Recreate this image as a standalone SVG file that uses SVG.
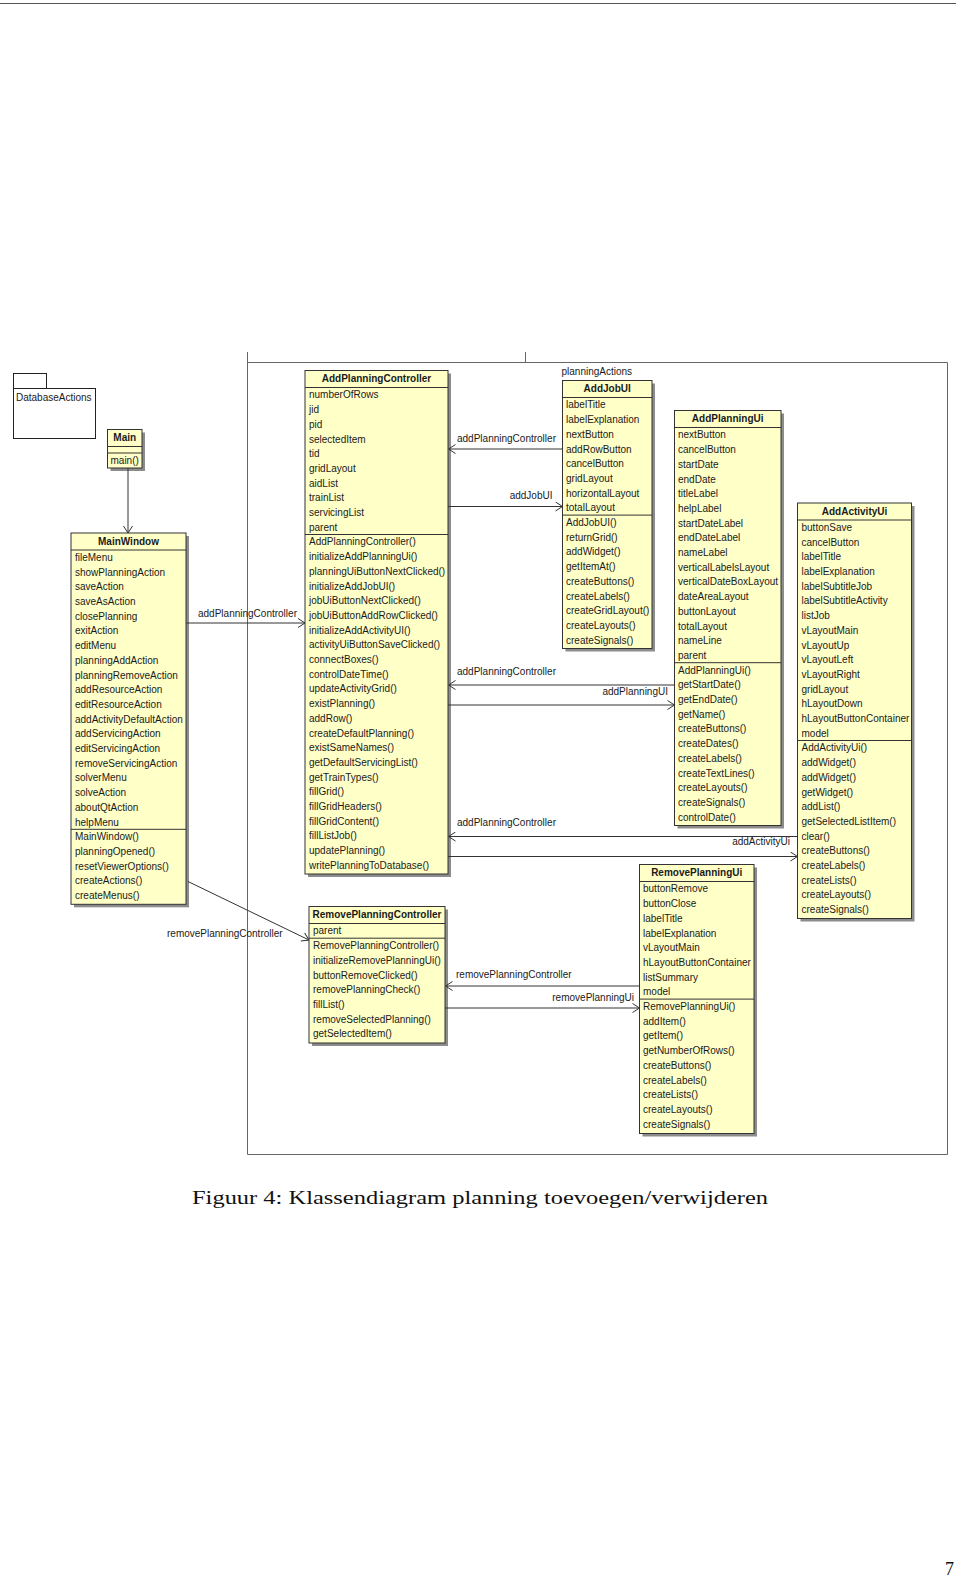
<svg xmlns="http://www.w3.org/2000/svg" width="960" height="1578" viewBox="0 0 960 1578">
<style>
.box{fill:#ffffc8;stroke:#333;stroke-width:1}
.sh{fill:#8c8c8c}
.dv{stroke:#333;stroke-width:1}
.t{font-family:"Liberation Sans",Arial,sans-serif;font-size:10px;fill:#1a1a1a}
.h{font-weight:bold;text-anchor:middle}
.e{text-anchor:end}
.conn{stroke:#333;stroke-width:1;fill:none}
.frame{stroke:#666;stroke-width:1;fill:none}
.cap{font-family:"Liberation Serif","Times New Roman",serif;font-size:18px;fill:#111}
</style>
<defs>
<marker id="arr" viewBox="0 0 10 10" refX="10" refY="5" markerWidth="10" markerHeight="10" markerUnits="userSpaceOnUse" orient="auto">
<path d="M3,0.5 L10,5 L3,9.5" fill="none" stroke="#333" stroke-width="1"/>
</marker>
</defs>
<rect width="960" height="1578" fill="#fff"/>
<line x1="0" y1="3.5" x2="956" y2="3.5" stroke="#555" stroke-width="1"/>

<g id="frame">
<path class="frame" d="M247.5,352 V1154.5 H947.5 V362.5 H247.5"/>
<line class="frame" x1="525.5" y1="352" x2="525.5" y2="362.5"/>
</g>

<g id="DatabaseActions">
<rect x="13.5" y="373.5" width="33" height="15" fill="#fff" stroke="#222"/>
<rect x="13.5" y="388.5" width="82" height="50" fill="#fff" stroke="#222"/>
<text class="t" x="16" y="400.5">DatabaseActions</text>
</g>

<g id="Main">
<rect class="sh" x="110.5" y="432.5" width="34.5" height="38.5"/>
<rect class="box" x="107.5" y="429.5" width="34.5" height="38.5"/>
<line class="dv" x1="107.5" y1="446.5" x2="142" y2="446.5"/>
<line class="dv" x1="107.5" y1="453" x2="142" y2="453"/>
<text class="t h" x="124.7" y="441">Main</text>
<text class="t" x="110.5" y="463.5">main()</text>
</g>

<g id="MainWindow">
<rect class="sh" x="74" y="536" width="115" height="371.3"/>
<rect class="box" x="71" y="533" width="115" height="371.3"/>
<line class="dv" x1="71" y1="550" x2="186" y2="550"/>
<line class="dv" x1="71" y1="829.3" x2="186" y2="829.3"/>
<text class="t h" x="128.5" y="544.8">MainWindow</text>
<text class="t" y="560.9"><tspan x="75">fileMenu</tspan><tspan x="75" dy="14.7">showPlanningAction</tspan><tspan x="75" dy="14.7">saveAction</tspan><tspan x="75" dy="14.7">saveAsAction</tspan><tspan x="75" dy="14.7">closePlanning</tspan><tspan x="75" dy="14.7">exitAction</tspan><tspan x="75" dy="14.7">editMenu</tspan><tspan x="75" dy="14.7">planningAddAction</tspan><tspan x="75" dy="14.7">planningRemoveAction</tspan><tspan x="75" dy="14.7">addResourceAction</tspan><tspan x="75" dy="14.7">editResourceAction</tspan><tspan x="75" dy="14.7">addActivityDefaultAction</tspan><tspan x="75" dy="14.7">addServicingAction</tspan><tspan x="75" dy="14.7">editServicingAction</tspan><tspan x="75" dy="14.7">removeServicingAction</tspan><tspan x="75" dy="14.7">solverMenu</tspan><tspan x="75" dy="14.7">solveAction</tspan><tspan x="75" dy="14.7">aboutQtAction</tspan><tspan x="75" dy="14.7">helpMenu</tspan></text>
<text class="t" y="840.2"><tspan x="75">MainWindow()</tspan><tspan x="75" dy="14.7">planningOpened()</tspan><tspan x="75" dy="14.7">resetViewerOptions()</tspan><tspan x="75" dy="14.7">createActions()</tspan><tspan x="75" dy="14.7">createMenus()</tspan></text>
</g>

<g id="AddPlanningController">
<rect class="sh" x="308" y="373.5" width="143" height="503.5"/>
<rect class="box" x="305" y="370.5" width="143" height="503.5"/>
<line class="dv" x1="305" y1="387.5" x2="448" y2="387.5"/>
<line class="dv" x1="305" y1="534.5" x2="448" y2="534.5"/>
<text class="t h" x="376.5" y="382.3">AddPlanningController</text>
<text class="t" y="398.4"><tspan x="309">numberOfRows</tspan><tspan x="309" dy="14.7">jid</tspan><tspan x="309" dy="14.7">pid</tspan><tspan x="309" dy="14.7">selectedItem</tspan><tspan x="309" dy="14.7">tid</tspan><tspan x="309" dy="14.7">gridLayout</tspan><tspan x="309" dy="14.7">aidList</tspan><tspan x="309" dy="14.7">trainList</tspan><tspan x="309" dy="14.7">servicingList</tspan><tspan x="309" dy="14.7">parent</tspan></text>
<text class="t" y="545.4"><tspan x="309">AddPlanningController()</tspan><tspan x="309" dy="14.7">initializeAddPlanningUi()</tspan><tspan x="309" dy="14.7">planningUiButtonNextClicked()</tspan><tspan x="309" dy="14.7">initializeAddJobUI()</tspan><tspan x="309" dy="14.7">jobUiButtonNextClicked()</tspan><tspan x="309" dy="14.7">jobUiButtonAddRowClicked()</tspan><tspan x="309" dy="14.7">initializeAddActivityUI()</tspan><tspan x="309" dy="14.7">activityUiButtonSaveClicked()</tspan><tspan x="309" dy="14.7">connectBoxes()</tspan><tspan x="309" dy="14.7">controlDateTime()</tspan><tspan x="309" dy="14.7">updateActivityGrid()</tspan><tspan x="309" dy="14.7">existPlanning()</tspan><tspan x="309" dy="14.7">addRow()</tspan><tspan x="309" dy="14.7">createDefaultPlanning()</tspan><tspan x="309" dy="14.7">existSameNames()</tspan><tspan x="309" dy="14.7">getDefaultServicingList()</tspan><tspan x="309" dy="14.7">getTrainTypes()</tspan><tspan x="309" dy="14.7">fillGrid()</tspan><tspan x="309" dy="14.7">fillGridHeaders()</tspan><tspan x="309" dy="14.7">fillGridContent()</tspan><tspan x="309" dy="14.7">fillListJob()</tspan><tspan x="309" dy="14.7">updatePlanning()</tspan><tspan x="309" dy="14.7">writePlanningToDatabase()</tspan></text>
</g>

<g id="AddJobUI">
<text class="t" x="561.5" y="375">planningActions</text>
<rect class="sh" x="565.5" y="383.5" width="89.5" height="268"/>
<rect class="box" x="562.5" y="380.5" width="89.5" height="268"/>
<line class="dv" x1="562.5" y1="397.5" x2="652" y2="397.5"/>
<line class="dv" x1="562.5" y1="515.1" x2="652" y2="515.1"/>
<text class="t h" x="607.2" y="392.3">AddJobUI</text>
<text class="t" y="408.4"><tspan x="566">labelTitle</tspan><tspan x="566" dy="14.7">labelExplanation</tspan><tspan x="566" dy="14.7">nextButton</tspan><tspan x="566" dy="14.7">addRowButton</tspan><tspan x="566" dy="14.7">cancelButton</tspan><tspan x="566" dy="14.7">gridLayout</tspan><tspan x="566" dy="14.7">horizontalLayout</tspan><tspan x="566" dy="14.7">totalLayout</tspan></text>
<text class="t" y="526"><tspan x="566">AddJobUI()</tspan><tspan x="566" dy="14.7">returnGrid()</tspan><tspan x="566" dy="14.7">addWidget()</tspan><tspan x="566" dy="14.7">getItemAt()</tspan><tspan x="566" dy="14.7">createButtons()</tspan><tspan x="566" dy="14.7">createLabels()</tspan><tspan x="566" dy="14.7">createGridLayout()</tspan><tspan x="566" dy="14.7">createLayouts()</tspan><tspan x="566" dy="14.7">createSignals()</tspan></text>
</g>

<g id="AddPlanningUi">
<rect class="sh" x="677.5" y="413.5" width="106.5" height="415"/>
<rect class="box" x="674.5" y="410.5" width="106.5" height="415"/>
<line class="dv" x1="674.5" y1="427.5" x2="781" y2="427.5"/>
<line class="dv" x1="674.5" y1="662.7" x2="781" y2="662.7"/>
<text class="t h" x="727.7" y="422.3">AddPlanningUi</text>
<text class="t" y="438.4"><tspan x="678">nextButton</tspan><tspan x="678" dy="14.7">cancelButton</tspan><tspan x="678" dy="14.7">startDate</tspan><tspan x="678" dy="14.7">endDate</tspan><tspan x="678" dy="14.7">titleLabel</tspan><tspan x="678" dy="14.7">helpLabel</tspan><tspan x="678" dy="14.7">startDateLabel</tspan><tspan x="678" dy="14.7">endDateLabel</tspan><tspan x="678" dy="14.7">nameLabel</tspan><tspan x="678" dy="14.7">verticalLabelsLayout</tspan><tspan x="678" dy="14.7">verticalDateBoxLayout</tspan><tspan x="678" dy="14.7">dateAreaLayout</tspan><tspan x="678" dy="14.7">buttonLayout</tspan><tspan x="678" dy="14.7">totalLayout</tspan><tspan x="678" dy="14.7">nameLine</tspan><tspan x="678" dy="14.7">parent</tspan></text>
<text class="t" y="673.6"><tspan x="678">AddPlanningUi()</tspan><tspan x="678" dy="14.7">getStartDate()</tspan><tspan x="678" dy="14.7">getEndDate()</tspan><tspan x="678" dy="14.7">getName()</tspan><tspan x="678" dy="14.7">createButtons()</tspan><tspan x="678" dy="14.7">createDates()</tspan><tspan x="678" dy="14.7">createLabels()</tspan><tspan x="678" dy="14.7">createTextLines()</tspan><tspan x="678" dy="14.7">createLayouts()</tspan><tspan x="678" dy="14.7">createSignals()</tspan><tspan x="678" dy="14.7">controlDate()</tspan></text>
</g>

<g id="AddActivityUi">
<rect class="sh" x="800.5" y="506" width="114" height="415.5"/>
<rect class="box" x="797.5" y="503" width="114" height="415.5"/>
<line class="dv" x1="797.5" y1="520" x2="911.5" y2="520"/>
<line class="dv" x1="797.5" y1="740.5" x2="911.5" y2="740.5"/>
<text class="t h" x="854.5" y="514.8">AddActivityUi</text>
<text class="t" y="530.9"><tspan x="801.5">buttonSave</tspan><tspan x="801.5" dy="14.7">cancelButton</tspan><tspan x="801.5" dy="14.7">labelTitle</tspan><tspan x="801.5" dy="14.7">labelExplanation</tspan><tspan x="801.5" dy="14.7">labelSubtitleJob</tspan><tspan x="801.5" dy="14.7">labelSubtitleActivity</tspan><tspan x="801.5" dy="14.7">listJob</tspan><tspan x="801.5" dy="14.7">vLayoutMain</tspan><tspan x="801.5" dy="14.7">vLayoutUp</tspan><tspan x="801.5" dy="14.7">vLayoutLeft</tspan><tspan x="801.5" dy="14.7">vLayoutRight</tspan><tspan x="801.5" dy="14.7">gridLayout</tspan><tspan x="801.5" dy="14.7">hLayoutDown</tspan><tspan x="801.5" dy="14.7">hLayoutButtonContainer</tspan><tspan x="801.5" dy="14.7">model</tspan></text>
<text class="t" y="751.4"><tspan x="801.5">AddActivityUi()</tspan><tspan x="801.5" dy="14.7">addWidget()</tspan><tspan x="801.5" dy="14.7">addWidget()</tspan><tspan x="801.5" dy="14.7">getWidget()</tspan><tspan x="801.5" dy="14.7">addList()</tspan><tspan x="801.5" dy="14.7">getSelectedListItem()</tspan><tspan x="801.5" dy="14.7">clear()</tspan><tspan x="801.5" dy="14.7">createButtons()</tspan><tspan x="801.5" dy="14.7">createLabels()</tspan><tspan x="801.5" dy="14.7">createLists()</tspan><tspan x="801.5" dy="14.7">createLayouts()</tspan><tspan x="801.5" dy="14.7">createSignals()</tspan></text>
</g>

<g id="RemovePlanningController">
<rect class="sh" x="312" y="909.5" width="136" height="136.5"/>
<rect class="box" x="309" y="906.5" width="136" height="136.5"/>
<line class="dv" x1="309" y1="923.5" x2="445" y2="923.5"/>
<line class="dv" x1="309" y1="938.2" x2="445" y2="938.2"/>
<text class="t h" x="377" y="918.3">RemovePlanningController</text>
<text class="t" x="313" y="934.4">parent</text>
<text class="t" y="949.1"><tspan x="313">RemovePlanningController()</tspan><tspan x="313" dy="14.7">initializeRemovePlanningUi()</tspan><tspan x="313" dy="14.7">buttonRemoveClicked()</tspan><tspan x="313" dy="14.7">removePlanningCheck()</tspan><tspan x="313" dy="14.7">fillList()</tspan><tspan x="313" dy="14.7">removeSelectedPlanning()</tspan><tspan x="313" dy="14.7">getSelectedItem()</tspan></text>
</g>

<g id="RemovePlanningUi">
<rect class="sh" x="642.5" y="867.5" width="114.5" height="269"/>
<rect class="box" x="639.5" y="864.5" width="114.5" height="269"/>
<line class="dv" x1="639.5" y1="881.5" x2="754" y2="881.5"/>
<line class="dv" x1="639.5" y1="999.1" x2="754" y2="999.1"/>
<text class="t h" x="696.7" y="876.3">RemovePlanningUi</text>
<text class="t" y="892.4"><tspan x="643">buttonRemove</tspan><tspan x="643" dy="14.7">buttonClose</tspan><tspan x="643" dy="14.7">labelTitle</tspan><tspan x="643" dy="14.7">labelExplanation</tspan><tspan x="643" dy="14.7">vLayoutMain</tspan><tspan x="643" dy="14.7">hLayoutButtonContainer</tspan><tspan x="643" dy="14.7">listSummary</tspan><tspan x="643" dy="14.7">model</tspan></text>
<text class="t" y="1010"><tspan x="643">RemovePlanningUi()</tspan><tspan x="643" dy="14.7">addItem()</tspan><tspan x="643" dy="14.7">getItem()</tspan><tspan x="643" dy="14.7">getNumberOfRows()</tspan><tspan x="643" dy="14.7">createButtons()</tspan><tspan x="643" dy="14.7">createLabels()</tspan><tspan x="643" dy="14.7">createLists()</tspan><tspan x="643" dy="14.7">createLayouts()</tspan><tspan x="643" dy="14.7">createSignals()</tspan></text>
</g>

<g id="connectors">
<path class="conn" marker-end="url(#arr)" d="M128,468 V533"/>
<path class="conn" marker-end="url(#arr)" d="M186,623 H305"/>
<path class="conn" marker-end="url(#arr)" d="M562.5,449 H448.5"/>
<path class="conn" marker-end="url(#arr)" d="M448,506.5 H562.5"/>
<path class="conn" marker-end="url(#arr)" d="M674.5,685 H448.5"/>
<path class="conn" marker-end="url(#arr)" d="M448,705 H674.5"/>
<path class="conn" marker-end="url(#arr)" d="M797.5,836.5 H448.5"/>
<path class="conn" marker-end="url(#arr)" d="M448,856.5 H797.5"/>
<path class="conn" marker-end="url(#arr)" d="M188,881.5 L309,940"/>
<path class="conn" marker-end="url(#arr)" d="M639.5,986 H445.5"/>
<path class="conn" marker-end="url(#arr)" d="M445,1008 H639.5"/>
<text class="t" x="198" y="616.5">addPlanningController</text>
<text class="t" x="457" y="442">addPlanningController</text>
<text class="t e" x="552.5" y="498.6">addJobUI</text>
<text class="t" x="457" y="675">addPlanningController</text>
<text class="t e" x="668" y="695">addPlanningUI</text>
<text class="t" x="457" y="825.6">addPlanningController</text>
<text class="t e" x="790" y="845">addActivityUi</text>
<text class="t" x="167" y="936.5">removePlanningController</text>
<text class="t" x="456" y="977.6">removePlanningController</text>
<text class="t e" x="634" y="1001">removePlanningUi</text>
</g>

<text class="cap" x="480" y="1204" text-anchor="middle" textLength="576" lengthAdjust="spacingAndGlyphs">Figuur 4: Klassendiagram planning toevoegen/verwijderen</text>
<text class="cap" x="945" y="1575">7</text>
</svg>
